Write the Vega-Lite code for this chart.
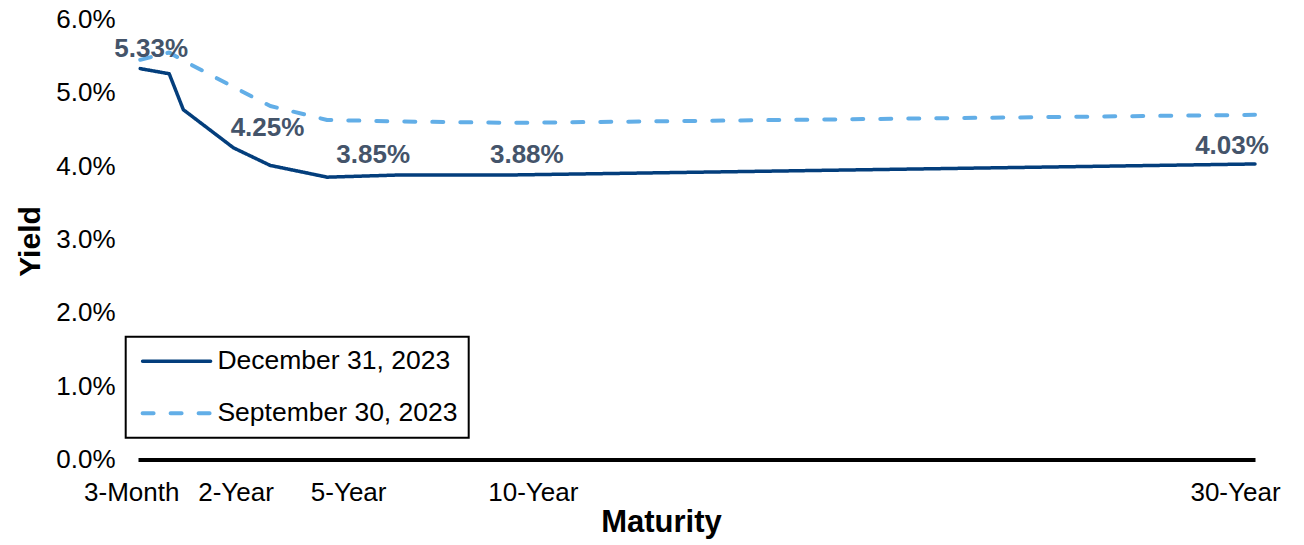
{
  "$schema": "https://vega.github.io/schema/vega-lite/v6.json",
  "autosize": "none",
  "width": 1117,
  "height": 440,
  "padding": {"left": 138, "top": 19.5, "right": 49, "bottom": 85.5},
  "background": "white",
  "config": {
    "view": {"stroke": null},
    "font": "Liberation Sans"
  },
  "data": {
    "values": [
      {"series": "December 31, 2023", "maturity": "3-Month", "term": 0, "yield": 5.33},
      {"series": "December 31, 2023", "maturity": "6-Month", "term": 0.78, "yield": 5.26},
      {"series": "December 31, 2023", "maturity": "1-Year", "term": 1.16, "yield": 4.77},
      {"series": "December 31, 2023", "maturity": "2-Year", "term": 2.51, "yield": 4.25},
      {"series": "December 31, 2023", "maturity": "3-Year", "term": 3.5, "yield": 4.01},
      {"series": "December 31, 2023", "maturity": "5-Year", "term": 5.03, "yield": 3.85},
      {"series": "December 31, 2023", "maturity": "7-Year", "term": 7.0, "yield": 3.88},
      {"series": "December 31, 2023", "maturity": "10-Year", "term": 10.0, "yield": 3.88},
      {"series": "December 31, 2023", "maturity": "30-Year", "term": 30.0, "yield": 4.03},
      {"series": "September 30, 2023", "maturity": "3-Month", "term": 0, "yield": 5.45},
      {"series": "September 30, 2023", "maturity": "6-Month", "term": 0.78, "yield": 5.55},
      {"series": "September 30, 2023", "maturity": "1-Year", "term": 1.16, "yield": 5.44},
      {"series": "September 30, 2023", "maturity": "2-Year", "term": 2.51, "yield": 5.08},
      {"series": "September 30, 2023", "maturity": "3-Year", "term": 3.5, "yield": 4.82},
      {"series": "September 30, 2023", "maturity": "5-Year", "term": 5.03, "yield": 4.63},
      {"series": "September 30, 2023", "maturity": "7-Year", "term": 7.0, "yield": 4.61},
      {"series": "September 30, 2023", "maturity": "10-Year", "term": 10.0, "yield": 4.59},
      {"series": "September 30, 2023", "maturity": "30-Year", "term": 30.0, "yield": 4.70}
    ]
  },
  "encoding": {
    "x": {
      "field": "term",
      "type": "quantitative",
      "scale": {"domain": [-0.06, 30], "nice": false, "zero": false},
      "axis": {
        "values": [0, 2.51, 5.03, 10, 30],
        "labelExpr": "datum.value < 1 ? '3-Month' : datum.value < 3 ? '2-Year' : datum.value < 6 ? '5-Year' : datum.value < 20 ? '10-Year' : '30-Year'",
        "labelOffset": {"condition": [{"test": "datum.value < 1", "value": -9}, {"test": "datum.value < 3", "value": 2}, {"test": "datum.value > 20", "value": -20}], "value": 21},
        "labelFontSize": 26,
        "labelColor": "black",
        "labelPadding": 20,
        "labelFlush": false,
        "labelOverlap": false,
        "labelBound": false,
        "ticks": false,
        "tickSize": 0,
        "grid": false,
        "domainColor": "black",
        "domainWidth": 4,
        "title": "Maturity",
        "titleFontSize": 31,
        "titleFontWeight": "bold",
        "titleColor": "black",
        "titleX": 523,
        "titleY": 72,
        "titleBaseline": "alphabetic",
        "titleAlign": "center"
      }
    },
    "y": {
      "field": "yield",
      "type": "quantitative",
      "scale": {"domain": [0, 6], "nice": false},
      "axis": {
        "values": [0, 1, 2, 3, 4, 5, 6],
        "labelExpr": "format(datum.value, '.1f') + '%'",
        "labelFontSize": 26,
        "labelColor": "black",
        "labelPadding": 23,
        "ticks": false,
        "tickSize": 0,
        "domain": false,
        "grid": false,
        "title": "Yield",
        "titleFontSize": 30,
        "titleFontWeight": "bold",
        "titleColor": "black",
        "titleAngle": -90,
        "titleX": -99,
        "titleY": 221.5,
        "titleBaseline": "alphabetic",
        "titleAlign": "center"
      }
    }
  },
  "layer": [
    {
      "mark": {"type": "line", "strokeCap": "round", "strokeJoin": "round"},
      "encoding": {
        "color": {
          "field": "series",
          "type": "nominal",
          "scale": {"domain": ["December 31, 2023", "September 30, 2023"], "range": ["#033E7C", "#62AEE7"]},
          "legend": {
            "title": null,
            "orient": "none",
            "legendX": -12.3,
            "legendY": 317.2,
            "direction": "vertical",
            "strokeColor": "black",
            "fillColor": "white",
            "padding": 11,
            "labelFontSize": 26.5,
            "labelColor": "black",
            "labelLimit": 0,
            "rowPadding": 25,
            "symbolType": "M-3,0H3",
            "symbolSize": 514,
            "symbolStrokeWidth": 3.5,
            "symbolOffset": 26.4,
            "labelOffset": 27.3,
            "encode": {
              "legend": {"update": {"strokeWidth": {"value": 2}}},
              "symbols": {"update": {"strokeCap": {"value": "round"}}}
            }
          }
        },
        "strokeDash": {
          "field": "series",
          "type": "nominal",
          "scale": {"domain": ["December 31, 2023", "September 30, 2023"], "range": [[1, 0], [11, 17]]},
          "legend": null
        },
        "strokeWidth": {
          "field": "series",
          "type": "nominal",
          "scale": {"domain": ["December 31, 2023", "September 30, 2023"], "range": [3.5, 4]},
          "legend": null
        }
      }
    },
    {
      "transform": [
        {"filter": "datum.series == 'December 31, 2023' && datum.maturity == '3-Month'"},
        {"calculate": "format(datum.yield, '.2f') + '%'", "as": "label"}
      ],
      "mark": {"type": "text", "fontSize": 26, "fontWeight": "bold", "color": "#44546A", "align": "center", "baseline": "middle", "dx": 11, "dy": -20},
      "encoding": {"text": {"field": "label"}}
    },
    {
      "transform": [
        {"filter": "datum.series == 'December 31, 2023' && datum.maturity == '2-Year'"},
        {"calculate": "format(datum.yield, '.2f') + '%'", "as": "label"}
      ],
      "mark": {"type": "text", "fontSize": 26, "fontWeight": "bold", "color": "#44546A", "align": "center", "baseline": "middle", "dx": 34, "dy": -20},
      "encoding": {"text": {"field": "label"}}
    },
    {
      "transform": [
        {"filter": "datum.series == 'December 31, 2023' && datum.maturity == '5-Year'"},
        {"calculate": "format(datum.yield, '.2f') + '%'", "as": "label"}
      ],
      "mark": {"type": "text", "fontSize": 26, "fontWeight": "bold", "color": "#44546A", "align": "center", "baseline": "middle", "dx": 46, "dy": -22},
      "encoding": {"text": {"field": "label"}}
    },
    {
      "transform": [
        {"filter": "datum.series == 'December 31, 2023' && datum.maturity == '10-Year'"},
        {"calculate": "format(datum.yield, '.2f') + '%'", "as": "label"}
      ],
      "mark": {"type": "text", "fontSize": 26, "fontWeight": "bold", "color": "#44546A", "align": "center", "baseline": "middle", "dx": 15, "dy": -20},
      "encoding": {"text": {"field": "label"}}
    },
    {
      "transform": [
        {"filter": "datum.series == 'December 31, 2023' && datum.maturity == '30-Year'"},
        {"calculate": "format(datum.yield, '.2f') + '%'", "as": "label"}
      ],
      "mark": {"type": "text", "fontSize": 26, "fontWeight": "bold", "color": "#44546A", "align": "center", "baseline": "middle", "dx": -23, "dy": -18},
      "encoding": {"text": {"field": "label"}}
    }
  ]
}
